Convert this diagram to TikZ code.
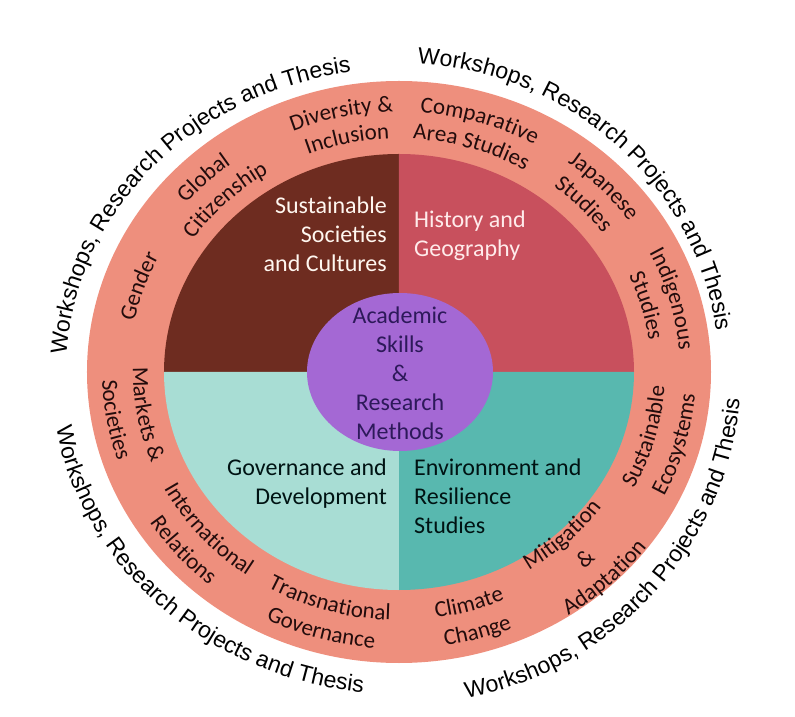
\documentclass[tikz,border=0pt]{standalone}
\usepackage{fontspec}
\setmainfont{Carlito}
\newfontfamily\arialfam{Liberation Sans}
\usetikzlibrary{decorations.text}
\definecolor{RingSalmon}{RGB}{238,143,125}
\definecolor{QuadBrown}{RGB}{110,44,32}
\definecolor{QuadRed}{RGB}{200,80,93}
\definecolor{QuadMint}{RGB}{168,221,212}
\definecolor{QuadTeal}{RGB}{88,184,175}
\definecolor{CorePurple}{RGB}{164,104,212}
\definecolor{CoreText}{RGB}{45,25,90}
\definecolor{RingText}{RGB}{35,12,12}
\newcommand\ringfont{\fontsize{23}{28}\selectfont\color{RingText}}
\newcommand\wsfont{\arialfam\fontsize{23}{28}\selectfont}

\begin{document}
\begin{tikzpicture}[x=1pt,y=1pt,
    quad/.style={font=\fontsize{24}{29}\selectfont, inner sep=0pt},
    ringtxt/.style={decorate, decoration={text along path, text align=center}}
  ]
  \useasboundingbox (-399,-345) rectangle (396,372);
  % ring and the four fields
  \fill[RingSalmon] (0,0) ellipse[x radius=312, y radius=291];
  \fill[QuadBrown] (0,0) -- (180:235 and 218) arc[start angle=180, end angle=90, x radius=235, y radius=218] -- cycle;
  \fill[QuadRed] (0,0) -- (90:235 and 218) arc[start angle=90, end angle=0, x radius=235, y radius=218] -- cycle;
  \fill[QuadTeal] (0,0) -- (0:235 and 218) arc[start angle=0, end angle=-90, x radius=235, y radius=218] -- cycle;
  \fill[QuadMint] (0,0) -- (270:235 and 218) arc[start angle=270, end angle=180, x radius=235, y radius=218] -- cycle;
  \fill[CorePurple] (1,0) ellipse[x radius=93, y radius=79];

  \node[quad, text=white!94!orange, align=right, anchor=east] (ssc) at (-12,138) {Sustainable\\Societies\\and Cultures};
  \node[quad, text=white!92!red, align=left, anchor=west] (hg) at (15,136) {History and\\Geography};
  \node[quad, text=black!85!teal, align=right, anchor=east] (gd) at (-12,-112) {Governance and\\Development};
  \node[quad, text=black!85!teal, align=left, anchor=west] (ers) at (15,-124) {Environment and\\Resilience\\Studies};
  \node[quad, text=CoreText, align=center] (core) at (1,-1) {Academic\\Skills\\\&\\Research\\Methods};

  % ring labels, upper half
  \path[ringtxt, decoration={text={|\ringfont|Gender}}] (196:270 and 251.9) arc[start angle=196, end angle=126, x radius=270, y radius=251.9];
  \path[ringtxt, decoration={text={|\ringfont|Global}}] (169:279 and 260.3) arc[start angle=169, end angle=99, x radius=279, y radius=260.3];
  \path[ringtxt, decoration={text={|\ringfont|Citizenship}}] (169:250 and 233.3) arc[start angle=169, end angle=99, x radius=250, y radius=233.3];
  \path[ringtxt, decoration={text={|\ringfont|Diversity {\&}}}] (137:279 and 260.3) arc[start angle=137, end angle=67, x radius=279, y radius=260.3];
  \path[ringtxt, decoration={text={|\ringfont|Inclusion}}] (137:250 and 233.3) arc[start angle=137, end angle=67, x radius=250, y radius=233.3];
  \path[ringtxt, decoration={text={|\ringfont|Comparative}}] (108:279 and 260.3) arc[start angle=108, end angle=38, x radius=279, y radius=260.3];
  \path[ringtxt, decoration={text={|\ringfont|Area Studies}}] (108:250 and 233.3) arc[start angle=108, end angle=38, x radius=250, y radius=233.3];
  \path[ringtxt, decoration={text={|\ringfont|Japanese}}] (78.5:281 and 262.2) arc[start angle=78.5, end angle=8.5, x radius=281, y radius=262.2];
  \path[ringtxt, decoration={text={|\ringfont|Studies}}] (78.5:252 and 235.1) arc[start angle=78.5, end angle=8.5, x radius=252, y radius=235.1];
  \path[ringtxt, decoration={text={|\ringfont|Indigenous}}] (50.6:281 and 262.2) arc[start angle=50.6, end angle=-19.4, x radius=281, y radius=262.2];
  \path[ringtxt, decoration={text={|\ringfont|Studies}}] (50.6:252 and 235.1) arc[start angle=50.6, end angle=-19.4, x radius=252, y radius=235.1];

  % ring labels, lower half
  \path[ringtxt, decoration={text={|\ringfont|Markets {\&}}}] (155:266 and 248.2) arc[start angle=155, end angle=225, x radius=266, y radius=248.2];
  \path[ringtxt, decoration={text={|\ringfont|Societies}}] (155:297 and 277.1) arc[start angle=155, end angle=225, x radius=297, y radius=277.1];
  \path[ringtxt, decoration={text={|\ringfont|International}}] (186:266 and 248.2) arc[start angle=186, end angle=256, x radius=266, y radius=248.2];
  \path[ringtxt, decoration={text={|\ringfont|Relations}}] (186:297 and 277.1) arc[start angle=186, end angle=256, x radius=297, y radius=277.1];
  \path[ringtxt, decoration={text={|\ringfont|Transnational}}] (219:266 and 248.2) arc[start angle=219, end angle=289, x radius=266, y radius=248.2];
  \path[ringtxt, decoration={text={|\ringfont|Governance}}] (219:297 and 277.1) arc[start angle=219, end angle=289, x radius=297, y radius=277.1];
  \path[ringtxt, decoration={text={|\ringfont|Climate}}] (251:266 and 248.2) arc[start angle=251, end angle=321, x radius=266, y radius=248.2];
  \path[ringtxt, decoration={text={|\ringfont|Change}}] (251:297 and 277.1) arc[start angle=251, end angle=321, x radius=297, y radius=277.1];
  \path[ringtxt, decoration={text={|\ringfont|Mitigation}}] (278.5:249 and 232.3) arc[start angle=278.5, end angle=348.5, x radius=249, y radius=232.3];
  \path[ringtxt, decoration={text={|\ringfont|{\&}}}] (278.5:281 and 262.2) arc[start angle=278.5, end angle=348.5, x radius=281, y radius=262.2];
  \path[ringtxt, decoration={text={|\ringfont|Adaptation}}] (278.5:311 and 290.2) arc[start angle=278.5, end angle=348.5, x radius=311, y radius=290.2];
  \path[ringtxt, decoration={text={|\ringfont|Sustainable}}] (309.6:266 and 248.2) arc[start angle=309.6, end angle=379.6, x radius=266, y radius=248.2];
  \path[ringtxt, decoration={text={|\ringfont|Ecosystems}}] (309.6:297 and 277.1) arc[start angle=309.6, end angle=379.6, x radius=297, y radius=277.1];

  % outer band of text
  \path[ringtxt, decoration={text={|\wsfont|Workshops, Research Projects and Thesis}}] (188:333 and 303) arc[start angle=188, end angle=88, x radius=333, y radius=303];
  \path[ringtxt, decoration={text={|\wsfont|Workshops, Research Projects and Thesis}}] (97:320 and 309) arc[start angle=97, end angle=-3, x radius=320, y radius=309];
  \path[ringtxt, decoration={text={|\wsfont|Workshops, Research Projects and Thesis}}] (-91.5:342 and 333) arc[start angle=-91.5, end angle=8.5, x radius=342, y radius=333];
  \path[ringtxt, decoration={text={|\wsfont|Workshops, Research Projects and Thesis}}] (176.5:348 and 322) arc[start angle=176.5, end angle=276.5, x radius=348, y radius=322];
\end{tikzpicture}
\end{document}
